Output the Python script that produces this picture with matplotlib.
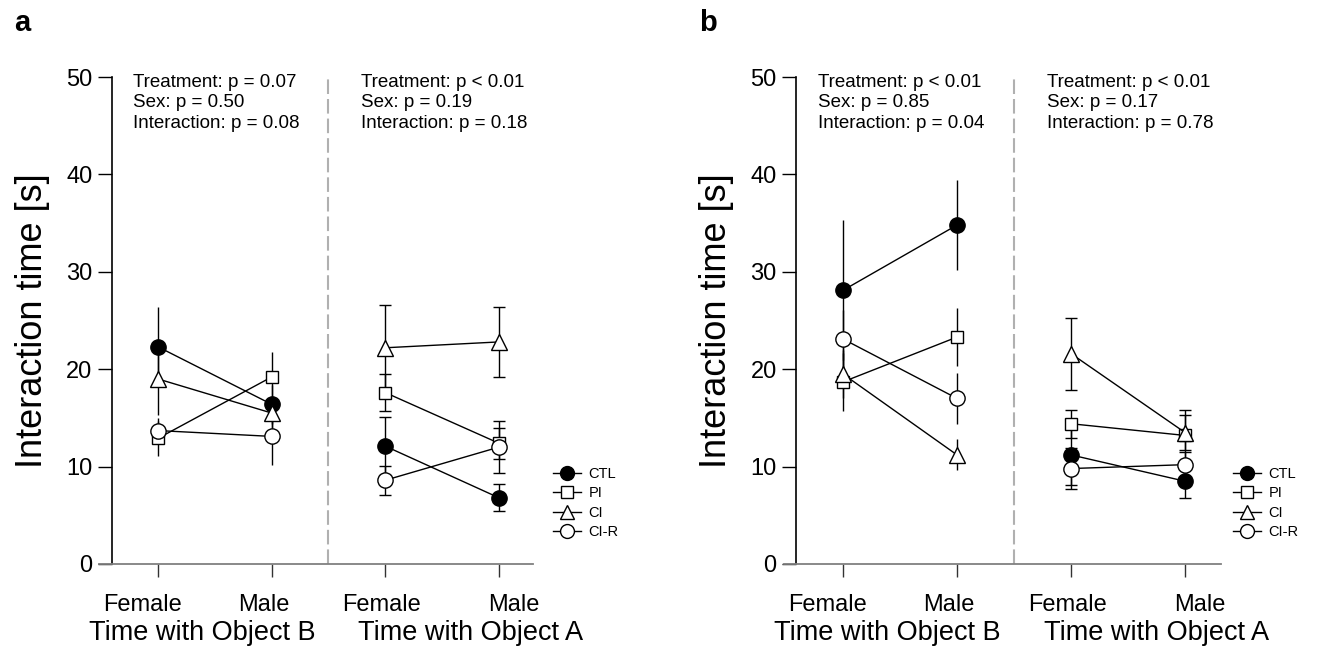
import matplotlib.pyplot as plt
from matplotlib.lines import Line2D

plt.rcParams['font.family'] = ['Liberation Sans', 'DejaVu Sans']

groups = ['CTL', 'PI', 'CI', 'CI-R']
sexes = ['Female', 'Male']
objects = ['Time with Object B', 'Time with Object A']

# panel a: mean and SEM, [Female, Male]
a_objB_mean = {'CTL': [22.3, 16.4], 'PI': [12.9, 19.2], 'CI': [19.0, 15.5], 'CI-R': [13.7, 13.1]}
a_objB_err = {'CTL': [4.1, 2.0], 'PI': [1.8, 2.6], 'CI': [3.7, 1.5], 'CI-R': [1.3, 2.9]}
a_objA_mean = {'CTL': [12.1, 6.8], 'PI': [17.6, 12.4], 'CI': [22.2, 22.8], 'CI-R': [8.6, 12.0]}
a_objA_err = {'CTL': [3.0, 1.4], 'PI': [1.9, 1.6], 'CI': [4.4, 3.6], 'CI-R': [1.5, 2.65]}
a_stats = ["Treatment: p = 0.07\nSex: p = 0.50\nInteraction: p = 0.08",
           "Treatment: p < 0.01\nSex: p = 0.19\nInteraction: p = 0.18"]

# panel b
b_objB_mean = {'CTL': [28.1, 34.8], 'PI': [18.7, 23.3], 'CI': [19.5, 11.2], 'CI-R': [23.1, 17.0]}
b_objB_err = {'CTL': [7.2, 4.6], 'PI': [3.0, 3.0], 'CI': [2.5, 1.6], 'CI-R': [3.0, 2.6]}
b_objA_mean = {'CTL': [11.2, 8.5], 'PI': [14.4, 13.2], 'CI': [21.6, 13.5], 'CI-R': [9.8, 10.2]}
b_objA_err = {'CTL': [3.1, 1.7], 'PI': [1.45, 2.6], 'CI': [3.7, 1.8], 'CI-R': [2.1, 1.3]}
b_stats = ["Treatment: p < 0.01\nSex: p = 0.85\nInteraction: p = 0.04",
           "Treatment: p < 0.01\nSex: p = 0.17\nInteraction: p = 0.78"]

styles = {
    'CTL': dict(marker='o', mfc='black', ms=11),
    'PI': dict(marker='s', mfc='white', ms=9),
    'CI': dict(marker='^', mfc='white', ms=11),
    'CI-R': dict(marker='o', mfc='white', ms=11),
}


def draw_panel(ax, means, errs, stats, letter, legend_xy):
    for gi, (m_dict, e_dict) in enumerate(zip(means, errs)):
        xs = [1 + 2 * gi, 2 + 2 * gi]
        cap = 0 if gi == 0 else 4.5
        for g in groups:
            ax.errorbar(xs, m_dict[g], yerr=e_dict[g], fmt='none', ecolor='black',
                        elinewidth=1, capsize=cap, capthick=1, zorder=2)
        for g in groups:
            ax.plot(xs, m_dict[g], color='black', lw=1, mec='black', mew=1,
                    zorder=3, **styles[g])
        ax.text(xs[0] - 0.22 if gi == 0 else xs[0] - 0.21, 50.3, stats[gi],
                fontsize=13.5, va='top', ha='left', linespacing=1.26)

    ax.axvline(2.5, color='#b0b0b0', lw=1.5, dashes=(7, 2.4), zorder=1)

    ax.set_xlim(0.481, 4.30)
    ax.set_ylim(0, 50)
    ax.set_yticks([0, 10, 20, 30, 40, 50])
    ax.set_xticks([1, 2, 3, 4])
    ax.tick_params(axis='y', direction='out', length=10, width=1, labelsize=17, pad=4)
    ax.tick_params(axis='x', direction='out', length=9.5, width=1, color='#333333',
                   labelbottom=False)
    ax.spines['top'].set_visible(False)
    ax.spines['right'].set_visible(False)
    ax.spines['left'].set_position(('data', 0.596))
    ax.spines['left'].set_linewidth(1.2)
    ax.spines['bottom'].set_color('#808080')
    ax.spines['bottom'].set_linewidth(1.3)

    tr = ax.get_xaxis_transform()
    offsets = [-0.14, -0.07, -0.03, 0.13]
    for i, off in enumerate(offsets):
        ax.text(1 + i + off, -0.0965, sexes[i % 2], transform=tr, fontsize=17,
                ha='center', va='baseline')
    ax.text(1.39, -0.156, objects[0], transform=tr, fontsize=19.5, ha='center', va='baseline')
    ax.text(3.75, -0.156, objects[1], transform=tr, fontsize=19.5, ha='center', va='baseline')

    ax.set_ylabel('Interaction time [s]', fontsize=26, labelpad=12)
    ax.text(-0.195, 1.094, letter, transform=ax.transAxes, fontsize=21,
            fontweight='bold', ha='left', va='baseline')

    handles = [Line2D([0], [0], color='black', lw=1, mec='black', mew=1,
                      **dict(styles[g], ms=min(styles[g]['ms'], 10))) for g in groups]
    ax.legend(handles, groups, loc='center left', bbox_to_anchor=legend_xy,
              bbox_transform=ax.figure.transFigure, frameon=False, fontsize=10.5,
              handlelength=1.9, handletextpad=0.55, labelspacing=0.36,
              borderpad=0, borderaxespad=0)


fig = plt.figure(figsize=(13.25, 6.65), dpi=100)
ax_a = fig.add_axes([99 / 1325, 101 / 665, 434 / 1325, 487 / 665])
ax_b = fig.add_axes([784 / 1325, 101 / 665, 437 / 1325, 487 / 665])

draw_panel(ax_a, [a_objB_mean, a_objA_mean], [a_objB_err, a_objA_err], a_stats, 'a',
           (553 / 1325, 1 - 503 / 665))
draw_panel(ax_b, [b_objB_mean, b_objA_mean], [b_objB_err, b_objA_err], b_stats, 'b',
           (1233 / 1325, 1 - 503 / 665))
ax_b.set_xlim(0.482, 4.316)
ax_b.spines['left'].set_position(('data', 0.588))

plt.savefig('out.png', dpi=100)
